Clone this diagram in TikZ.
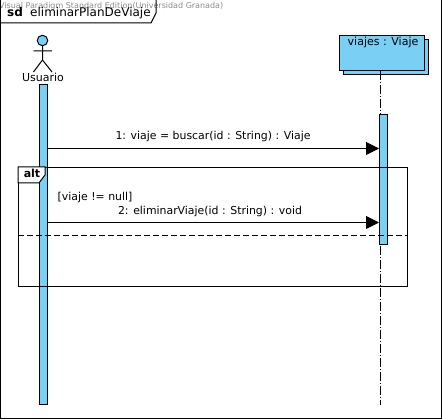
\documentclass[tikz,border=0pt]{standalone}
\usepackage{fontspec}
\setmainfont{DejaVu Sans}
\usetikzlibrary{arrows.meta,calc}
\definecolor{fillblue}{RGB}{122,207,245}
\tikzset{
  ln/.style={draw=black,line width=1pt},
  bar/.style={ln,fill=fillblue,inner sep=0pt,minimum width=8pt,anchor=north},
  objbox/.style={ln,fill=fillblue,inner sep=0pt,minimum width=85pt,minimum height=35pt,anchor=north west},
  lifeline/.style={draw=black,line width=1pt,dash pattern=on 9pt off 2pt on 1pt off 2pt},
  msg/.style={draw=black,line width=1pt,-{Triangle[length=13pt,width=13pt,fill=black]},shorten >=-0.5pt},
  txt/.style={inner sep=0pt,font=\fontsize{10.9}{13}\selectfont,text=black},
  lbl/.style={inner sep=0pt,font=\fontsize{11}{13}\selectfont,text=black}
}
\begin{document}
\begin{tikzpicture}[x=1pt,y=-1pt]
\useasboundingbox (0,0) rectangle (442,419);
\fill[white] (0,0) rectangle (442,419);
\node[inner sep=0pt,anchor=west,text=black!45,font=\fontsize{8}{10}\selectfont] (wm) at (-1,6.5) {Visual Paradigm Standard Edition(Universidad Granada)};
% frame
\draw[ln] (0.5,-2) rectangle (441,418.5);
\draw[ln] (0.5,23) -- (151,23) -- (156,13) -- (156,-2);
\node[inner sep=0pt,anchor=base west,font=\fontsize{12}{14}\selectfont\bfseries] (sd) at (7,16.5) {sd};
\node[inner sep=0pt,anchor=base west,font=\fontsize{12}{14}\selectfont] (fname) at (30,16.5) {eliminarPlanDeViaje};
% actor
\node[ln,fill=fillblue,circle,minimum size=10.5pt,inner sep=0pt] (head) at (42.5,40.5) {};
\coordinate (hip) at (42.5,60);
\coordinate (armL) at (33.5,51);
\coordinate (armR) at (52,51);
\coordinate (legL) at (33.5,72);
\coordinate (legR) at (52,72);
\draw[ln] (head.south) -- (hip) (armL) -- (armR) (legL) -- (hip) -- (legR);
\node[lbl] (usuario) at (43,77.5) {Usuario};
% object
\node[objbox,minimum width=85pt] (objback) at (342.5,39) {};
\node[objbox] (obj) at (338.5,35) {};
\node[lbl,anchor=base] (objtxt) at (383,46) {viajes : Viaje};
% activations
\node[bar,minimum height=319.5pt] (actA) at (43,84.5) {};
\node[bar,minimum height=129.5pt] (actB) at (383,114.5) {};
\coordinate (llEnd) at (380.5,405);
\coordinate (llStart) at (380.5,246);
\draw[lifeline] (obj.south -| llEnd) -- (380.5,114.5);
\draw[lifeline] (llStart) -- (llEnd);
% alt fragment
\node[draw=black,line width=1pt,inner sep=0pt,minimum width=388.5pt,minimum height=119pt,anchor=north west] (alt) at (18.2,167) {};
\draw[ln,fill=white] (18.2,167) -- (45,167) -- (45,175) -- (39,183) -- (18.2,183) -- cycle;
\node[inner sep=0pt,anchor=base,font=\fontsize{11}{13}\selectfont\bfseries] (alttxt) at (32,178) {alt};
\draw[draw=black,line width=1pt,dash pattern=on 6pt off 3pt] (alt.west |- 0,235.5) -- (alt.east |- 0,235.5);
\node[txt,anchor=base west] (guard) at (57.5,200.5) {[viaje != null]};
% messages
\node[txt,anchor=base] (m1) at (213,139.5) {1: viaje = buscar(id : String) : Viaje};
\node[txt,anchor=base] (m2) at (210,214.5) {2: eliminarViaje(id : String) : void};
\draw[msg] (actA.east |- 0,148.5) -- (actB.west |- 0,148.5);
\draw[msg] (actA.east |- 0,222.5) -- (actB.west |- 0,222.5);
\end{tikzpicture}
\end{document}
